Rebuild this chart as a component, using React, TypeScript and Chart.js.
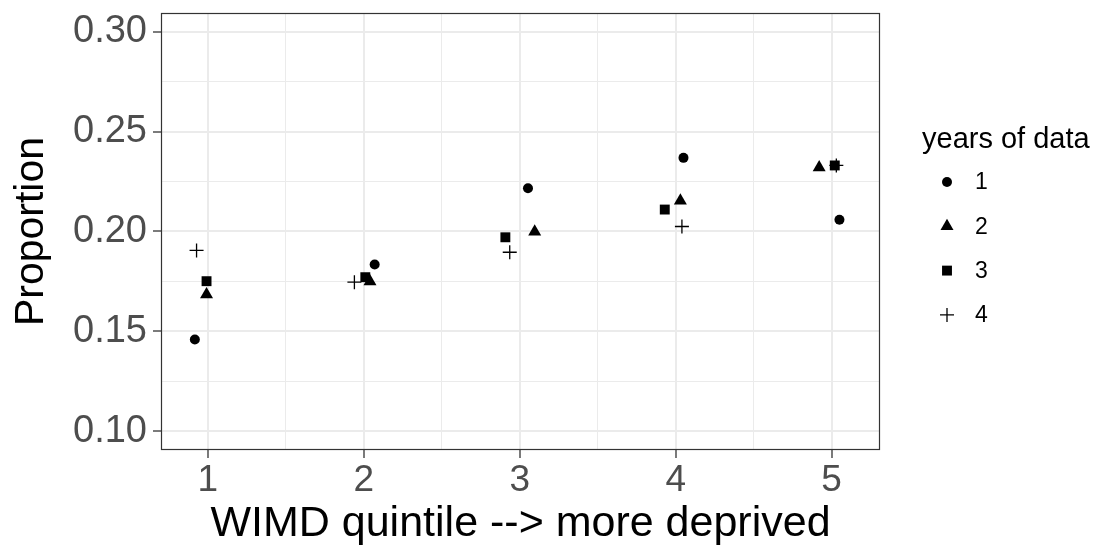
import React, { useEffect, useRef } from 'react';
import { Chart, registerables } from 'chart.js';

Chart.register(...registerables);

const FONT = '"Liberation Sans", Arial, sans-serif';

const legendTitle = 'years of data';
const seriesLabels = ['1', '2', '3', '4'];
const xTitle = 'WIMD quintile --> more deprived';
const yTitle = 'Proportion';

// jittered x positions (quintile) and proportions, per "years of data"
const x1 = [0.917, 2.07, 3.053, 4.05, 5.05];
const y1 = [0.1459, 0.1835, 0.2217, 0.2369, 0.2059];
const x2 = [0.992, 2.04, 3.096, 4.03, 4.92];
const y2 = [0.1684, 0.1749, 0.1999, 0.2154, 0.2321];
const x3 = [0.992, 2.01, 2.908, 3.93, 5.02];
const y3 = [0.1751, 0.1771, 0.1971, 0.211, 0.2331];
const x4 = [0.928, 1.94, 2.936, 4.04, 5.03];
const y4 = [0.1905, 0.1746, 0.1896, 0.2025, 0.2331];

const xMajorTicks = [1, 2, 3, 4, 5];
const xMinorTicks = [1.5, 2.5, 3.5, 4.5];
const yMajorTicks = [0.1, 0.15, 0.2, 0.25, 0.3];
const yMinorTicks = [0.125, 0.175, 0.225, 0.275];

const pointStyles = ['circle', 'triangle', 'rect', 'cross'];
const pointRadii = [5, 7.5, 7, 7];

const xsList = [x1, x2, x3, x4];
const ysList = [y1, y2, y3, y4];

function drawSymbol(ctx: CanvasRenderingContext2D, style: string, x: number, y: number, r: number) {
  ctx.save();
  ctx.fillStyle = '#000';
  ctx.strokeStyle = '#000';
  ctx.lineWidth = 1.3;
  ctx.beginPath();
  if (style === 'circle') {
    ctx.arc(x, y, r, 0, Math.PI * 2);
    ctx.fill();
  } else if (style === 'triangle') {
    const a = (2 * Math.PI) / 3;
    ctx.moveTo(x, y - r);
    ctx.lineTo(x + Math.sin(a) * r, y - Math.cos(a) * r);
    ctx.lineTo(x + Math.sin(2 * a) * r, y - Math.cos(2 * a) * r);
    ctx.closePath();
    ctx.fill();
  } else if (style === 'rect') {
    const s = Math.SQRT1_2 * r;
    ctx.rect(x - s, y - s, 2 * s, 2 * s);
    ctx.fill();
  } else {
    ctx.moveTo(x - r, y);
    ctx.lineTo(x + r, y);
    ctx.moveTo(x, y - r);
    ctx.lineTo(x, y + r);
    ctx.stroke();
  }
  ctx.restore();
}

const panelPlugin = {
  id: 'panelAndLegend',
  afterDatasetsDraw(chart: any) {
    const { ctx, chartArea } = chart;
    ctx.save();
    ctx.strokeStyle = '#333333';
    ctx.lineWidth = 1.2;
    ctx.strokeRect(chartArea.left + 0.5, chartArea.top + 0.5, chartArea.right - chartArea.left - 1, chartArea.bottom - chartArea.top - 1);
    ctx.restore();
  },
  afterDraw(chart: any) {
    const { ctx, chartArea } = chart;
    const lx = chartArea.right + 42;
    ctx.save();
    ctx.fillStyle = '#000';
    ctx.font = `29px ${FONT}`;
    ctx.textBaseline = 'alphabetic';
    ctx.textAlign = 'left';
    ctx.fillText(legendTitle, lx, 148);
    ctx.font = `23px ${FONT}`;
    ctx.textBaseline = 'middle';
    seriesLabels.forEach((lab, i) => {
      const yy = 182 + i * 44.3;
      drawSymbol(ctx, pointStyles[i], lx + 25, yy, pointRadii[i]);
      ctx.fillText(lab, lx + 53, yy + 1);
    });
    ctx.restore();
  },
};

export default function App() {
  const ref = useRef<HTMLCanvasElement | null>(null);

  useEffect(() => {
    if (!ref.current) return;
    const datasets = xsList.map((xs, i) => ({
      label: seriesLabels[i],
      data: xs.map((x, j) => ({ x, y: ysList[i][j] })),
      pointStyle: pointStyles[i] as any,
      pointRadius: pointRadii[i],
      pointHoverRadius: pointRadii[i],
      backgroundColor: '#000',
      borderColor: '#000',
      borderWidth: pointStyles[i] === 'cross' ? 1.3 : 0,
      showLine: false,
    }));

    const xAll = [...xMajorTicks, ...xMinorTicks].sort((a, b) => a - b);
    const yAll = [...yMajorTicks, ...yMinorTicks].sort((a, b) => a - b);

    const chart = new Chart(ref.current, {
      type: 'scatter',
      data: { datasets },
      plugins: [panelPlugin],
      options: {
        responsive: false,
        animation: false,
        devicePixelRatio: 1,
        layout: { padding: { left: 0, top: 13, right: 216, bottom: 0 } },
        plugins: {
          legend: { display: false },
          tooltip: { enabled: false },
        },
        scales: {
          x: {
            type: 'linear',
            bounds: 'data',
            min: 0.7,
            max: 5.31,
            afterBuildTicks: (s: any) => {
              s.ticks = xAll.map((v) => ({ value: v }));
            },
            afterFit: (s: any) => {
              s.height = 100;
              s.paddingLeft = 0;
              s.paddingRight = 0;
            },
            border: { display: false },
            grid: {
              color: '#ebebeb',
              lineWidth: (c: any) => (c.tick && xMajorTicks.includes(c.tick.value) ? 2 : 1),
              tickColor: (c: any) => (c.tick && xMajorTicks.includes(c.tick.value) ? '#333333' : 'rgba(0,0,0,0)'),
              tickLength: 8,
              tickWidth: 1.3,
            },
            ticks: {
              autoSkip: false,
              maxRotation: 0,
              padding: 1,
              color: '#4d4d4d',
              font: { family: FONT, size: 37 },
              callback: (v: any) => (xMajorTicks.includes(v) ? String(v) : ''),
            },
            title: {
              display: true,
              text: xTitle,
              color: '#000',
              font: { family: FONT, size: 43 },
              padding: { top: 0, bottom: 0 },
            },
          },
          y: {
            type: 'linear',
            bounds: 'data',
            min: 0.0905,
            max: 0.3095,
            afterBuildTicks: (s: any) => {
              s.ticks = yAll.map((v) => ({ value: v }));
            },
            afterFit: (s: any) => {
              s.width = 161;
              s.paddingTop = 0;
              s.paddingBottom = 0;
            },
            border: { display: false },
            grid: {
              color: '#ebebeb',
              lineWidth: (c: any) => (c.tick && yMajorTicks.includes(c.tick.value) ? 2 : 1),
              tickColor: (c: any) => (c.tick && yMajorTicks.includes(c.tick.value) ? '#333333' : 'rgba(0,0,0,0)'),
              tickLength: 8,
              tickWidth: 1.3,
            },
            ticks: {
              autoSkip: false,
              padding: 6,
              color: '#4d4d4d',
              font: { family: FONT, size: 38 },
              callback: (v: any) => (yMajorTicks.includes(v) ? Number(v).toFixed(2) : ''),
            },
            title: {
              display: true,
              text: yTitle,
              color: '#000',
              font: { family: FONT, size: 41 },
              padding: { top: 7.5, bottom: 0 },
            },
          },
        },
      },
    });
    return () => chart.destroy();
  }, []);

  return (
    <div style={{ position: 'absolute', left: 0, top: 0, width: 1096, height: 550, background: '#fff' }}>
      <canvas ref={ref} width={1096} height={550} style={{ display: 'block' }} />
    </div>
  );
}
